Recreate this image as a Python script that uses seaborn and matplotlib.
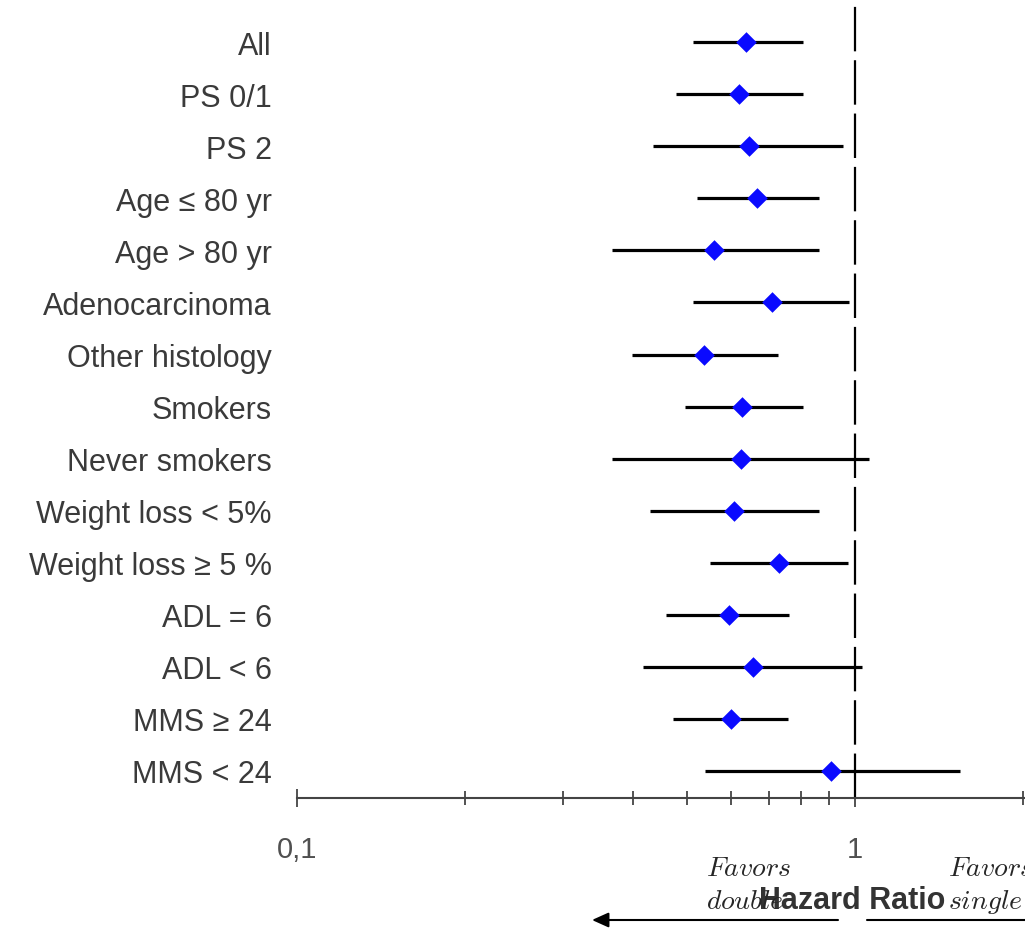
import numpy as np
import matplotlib
matplotlib.use("Agg")
import matplotlib.pyplot as plt
from matplotlib.ticker import FixedLocator, NullFormatter
import seaborn as sns

# subgroup hazard ratios (point, lower, upper)
labels = ['All', 'PS 0/1', 'PS 2', 'Age \u2264 80 yr', 'Age > 80 yr',
          'Adenocarcinoma', 'Other histology', 'Smokers', 'Never smokers',
          'Weight loss < 5%', 'Weight loss \u2265 5 %', 'ADL = 6', 'ADL < 6',
          'MMS \u2265 24', 'MMS < 24']
hr = [0.639, 0.620, 0.646, 0.667, 0.559, 0.710, 0.536, 0.627, 0.625,
      0.607, 0.731, 0.595, 0.656, 0.600, 0.906]
lo = [0.513, 0.478, 0.435, 0.521, 0.367, 0.513, 0.398, 0.496, 0.367,
      0.430, 0.550, 0.459, 0.417, 0.472, 0.539]
hi = [0.807, 0.807, 0.952, 0.862, 0.862, 0.976, 0.728, 0.807, 1.059,
      0.862, 0.972, 0.762, 1.030, 0.759, 1.542]
major_ticks = [0.1, 1]
major_labels = ['0,1', '1']
minor_ticks = [0.2, 0.3, 0.4, 0.5, 0.6, 0.7, 0.8, 0.9, 2]

sns.set_style('white')
plt.rcParams['font.family'] = ['Liberation Sans', 'DejaVu Sans']
plt.rcParams['mathtext.fontset'] = 'cm'

W, H = 1025, 929
fig = plt.figure(figsize=(W / 100, H / 100), dpi=100)
ax = fig.add_axes([297 / W, (H - 799) / H, 728 / W, 799 / H])

pos = np.arange(len(labels))
ax.hlines(pos, lo, hi, color='black', lw=2.3, zorder=2)
sns.scatterplot(x=hr, y=pos, marker='D', s=110, color='#0a0aff',
                linewidth=0, zorder=3, ax=ax)
ax.axvline(1, color='black', lw=1.6, ls=(0, (20, 4)), zorder=1)

ax.set_xscale('log')
ax.set_xlim(0.1, 2.017)
ax.set_ylim(len(labels) - 1 + 0.52, -0.83)
ax.set_xticks(major_ticks)
ax.set_xticklabels(major_labels)
ax.xaxis.set_minor_locator(FixedLocator(minor_ticks))
ax.xaxis.set_minor_formatter(NullFormatter())
ax.set_yticks(pos)
ax.set_yticklabels(labels)

for s in ['left', 'right', 'top']:
    ax.spines[s].set_visible(False)
ax.spines['bottom'].set_color('#444444')
ax.spines['bottom'].set_linewidth(1.5)
ax.tick_params(axis='y', length=0, pad=18, labelsize=22, labelcolor='#3a3a3a')
ax.tick_params(axis='x', which='major', direction='inout', length=13, width=1.3,
               color='#444444', pad=20, labelsize=21, labelcolor='#505050',
               bottom=True)
ax.tick_params(axis='x', which='minor', direction='inout', length=10, width=1.3,
               color='#444444', bottom=True)

ax.set_xlabel('Hazard Ratio', fontsize=22, fontweight='bold', color='#333333', va='center')
ax.xaxis.set_label_coords((852 - 297) / 728, -102 / 799)

fig.text(706 / W, 1 - 869 / H, r'$Favors$', fontsize=20, va='center', ha='left')
fig.text(706 / W, 1 - 902 / H, r'$double$', fontsize=20, va='center', ha='left')
fig.text(948 / W, 1 - 869 / H, r'$Favors$', fontsize=20, va='center', ha='left')
fig.text(948 / W, 1 - 902 / H, r'$single$', fontsize=20, va='center', ha='left')

ax.annotate('', xy=(592 / W, 1 - 921 / H), xytext=(838 / W, 1 - 921 / H),
            xycoords='figure fraction', textcoords='figure fraction',
            arrowprops=dict(arrowstyle='-|>,head_length=1.0,head_width=0.45',
                            color='black', lw=1.5, shrinkA=0, shrinkB=0))
ax.annotate('', xy=(1040 / W, 1 - 921 / H), xytext=(867 / W, 1 - 921 / H),
            xycoords='figure fraction', textcoords='figure fraction',
            arrowprops=dict(arrowstyle='-', color='black', lw=1.5,
                            shrinkA=0, shrinkB=0))

fig.savefig('out.png', dpi=100)
